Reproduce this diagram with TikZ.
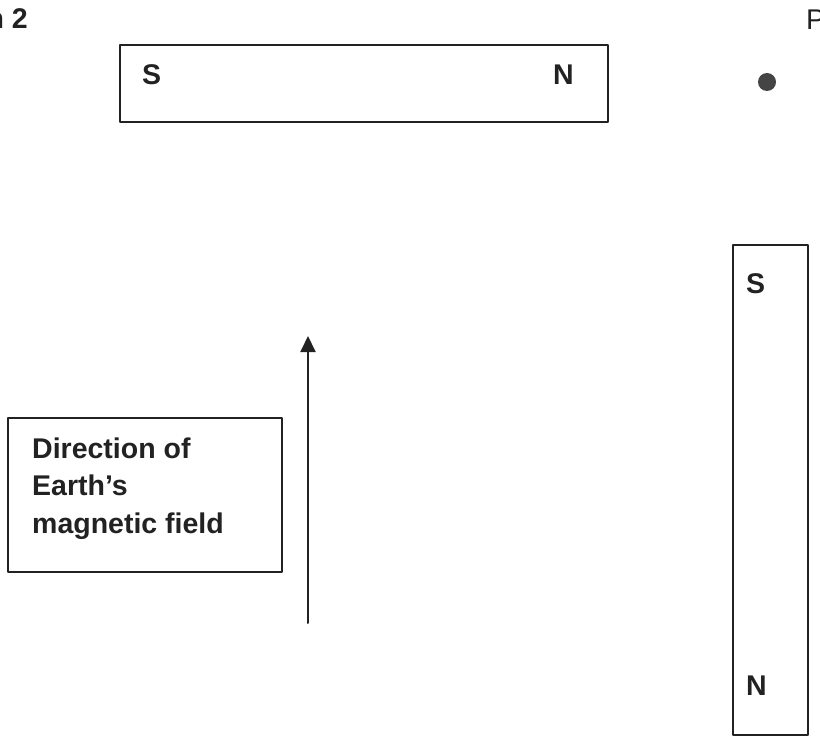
\documentclass[tikz,border=0pt]{standalone}
\usepackage{fontspec}
\setmainfont{Liberation Sans}
\usetikzlibrary{arrows.meta}
\definecolor{ink}{HTML}{222222}
\definecolor{dotgray}{HTML}{454545}

\begin{document}
\begin{tikzpicture}[x=1pt,y=-1pt,line cap=round,line join=round,
    magnet/.style={draw=ink,line width=1.4pt,rectangle,inner sep=0pt},
    pole/.style={inner sep=0pt,text=ink,font=\fontsize{28.5}{37.5}\selectfont\bfseries},
    field/.style={draw=ink,line width=2pt,-{Triangle[length=16pt,width=15pt]}}]
    \useasboundingbox (0,0) rectangle (820,738);
    \node[pole,anchor=base east] (title) at (28,29) {n 2};
    \node[inner sep=0pt,text=ink,font=\fontsize{28.5}{34}\selectfont,anchor=base west] (labelP) at (806,30) {P};
    \node[circle,fill=dotgray,minimum size=18pt,inner sep=0pt] (pointP) at (767,82) {};
    \node[magnet,minimum width=488pt,minimum height=77pt] (barTop) at (364,83.5) {};
    \node[pole,anchor=base west] (topS) at (142,85) {S};
    \node[pole,anchor=base east] (topN) at (574,85) {N};
    \node[magnet,minimum width=75pt,minimum height=490pt] (barSide) at (770.5,490) {};
    \node[pole,anchor=base west] (sideS) at (746,294) {S};
    \node[pole,anchor=base west] (sideN) at (746,695) {N};
    \node[magnet,minimum width=274pt,minimum height=154pt] (keyBox) at (145,495) {};
    \node[pole,align=left,anchor=base west] (keyText) at (32,533) {Direction of\\Earth’s\\magnetic field};
    \coordinate (fieldTail) at (308,623);
    \coordinate (fieldHead) at (308,336);
    \draw[field] (fieldTail) -- (fieldHead);
\end{tikzpicture}
\end{document}
